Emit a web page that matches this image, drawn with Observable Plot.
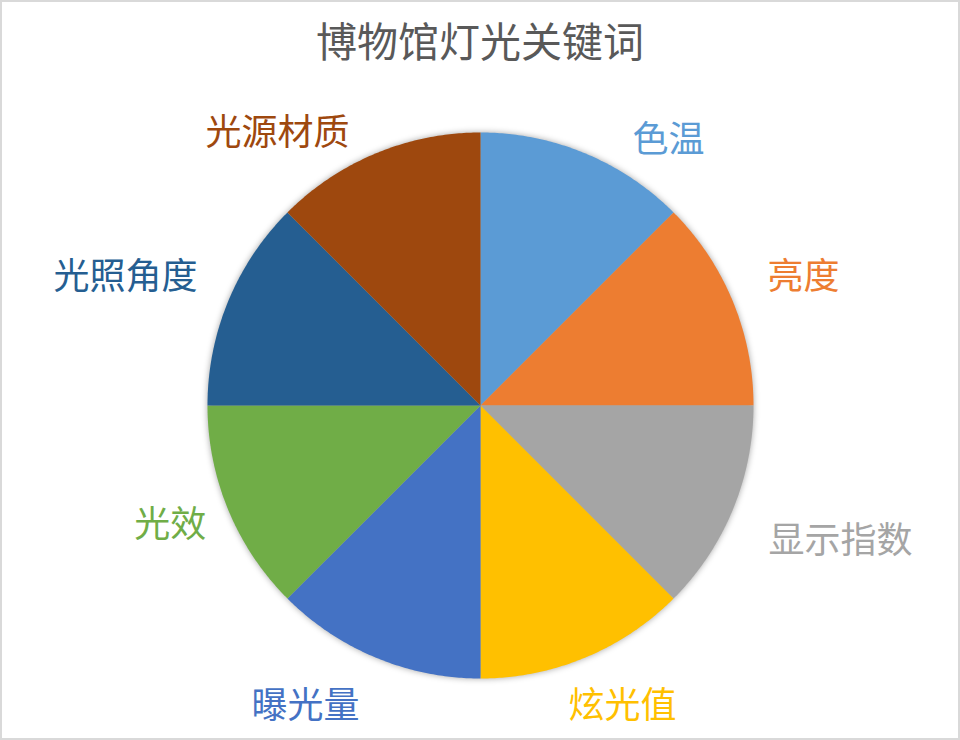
<!DOCTYPE html>
<html><head><meta charset="utf-8">
<script src="https://cdn.jsdelivr.net/npm/d3@7"></script>
<script src="https://cdn.jsdelivr.net/npm/@observablehq/plot@0.6"></script>
<style>
html,body{margin:0;padding:0;background:#fff;}
#frame{width:960px;height:740px;box-sizing:border-box;border:2px solid #d9d9d9;background:#fff;overflow:hidden;}
#title{height:80px;line-height:74px;text-align:center;font-family:"Noto Sans CJK SC",sans-serif;font-size:41px;color:#595959;}
#chart svg g[aria-label="line"]{filter:drop-shadow(0 0 3px rgba(0,0,0,0.35));}
</style></head>
<body>
<div id="frame"><div id="title">博物馆灯光关键词</div><div id="chart"></div></div>
<script>
const categories = ["色温","亮度","显示指数","炫光值","曝光量","光效","光照角度","光源材质"];
const values = [1,1,1,1,1,1,1,1];
const colors = ["#5B9BD5","#ED7D31","#A5A5A5","#FFC000","#4472C4","#70AD47","#255E91","#9E480E"];
// label placement (layout, in pie-radius units, x right / y up)
const labelOffsets = [[0.689,0.971],[1.183,0.469],[1.319,-0.498],[0.520,-1.103],[-0.641,-1.103],[-1.136,-0.440],[-1.300,0.469],[-0.744,0.996]];

const W = 956, H = 656, R = 273, CX = 478, CY = 323;
const arcs = d3.pie().sort(null)(values);
const pts = [];
arcs.forEach((a, i) => {
  const key = categories[i];
  pts.push({key, x: 0, y: 0});
  const n = Math.max(2, Math.ceil((a.endAngle - a.startAngle) / (Math.PI/360)));
  for (let k = 0; k <= n; k++) {
    const t = a.startAngle + (a.endAngle - a.startAngle) * k / n;
    pts.push({key, x: Math.sin(t), y: Math.cos(t)});
  }
});
const labels = categories.map((c, i) => ({key: c, x: labelOffsets[i][0], y: labelOffsets[i][1]}));

const chart = Plot.plot({
  width: W, height: H,
  marginTop: 0, marginRight: 0, marginBottom: 0, marginLeft: 0,
  x: {domain: [-CX/R, (W-CX)/R], axis: null},
  y: {domain: [-(H-CY)/R, CY/R], axis: null},
  color: {domain: categories, range: colors},
  style: {fontFamily: "'Noto Sans CJK SC', sans-serif", background: "transparent"},
  marks: [
    Plot.line(pts, {x: "x", y: "y", z: "key", fill: "key", stroke: "none"}),
    Plot.text(labels, {x: "x", y: "y", text: "key", fill: "key", fontSize: 36, textAnchor: "middle", lineAnchor: "middle"})
  ]
});
document.getElementById("chart").appendChild(chart);
</script>
</body></html>
